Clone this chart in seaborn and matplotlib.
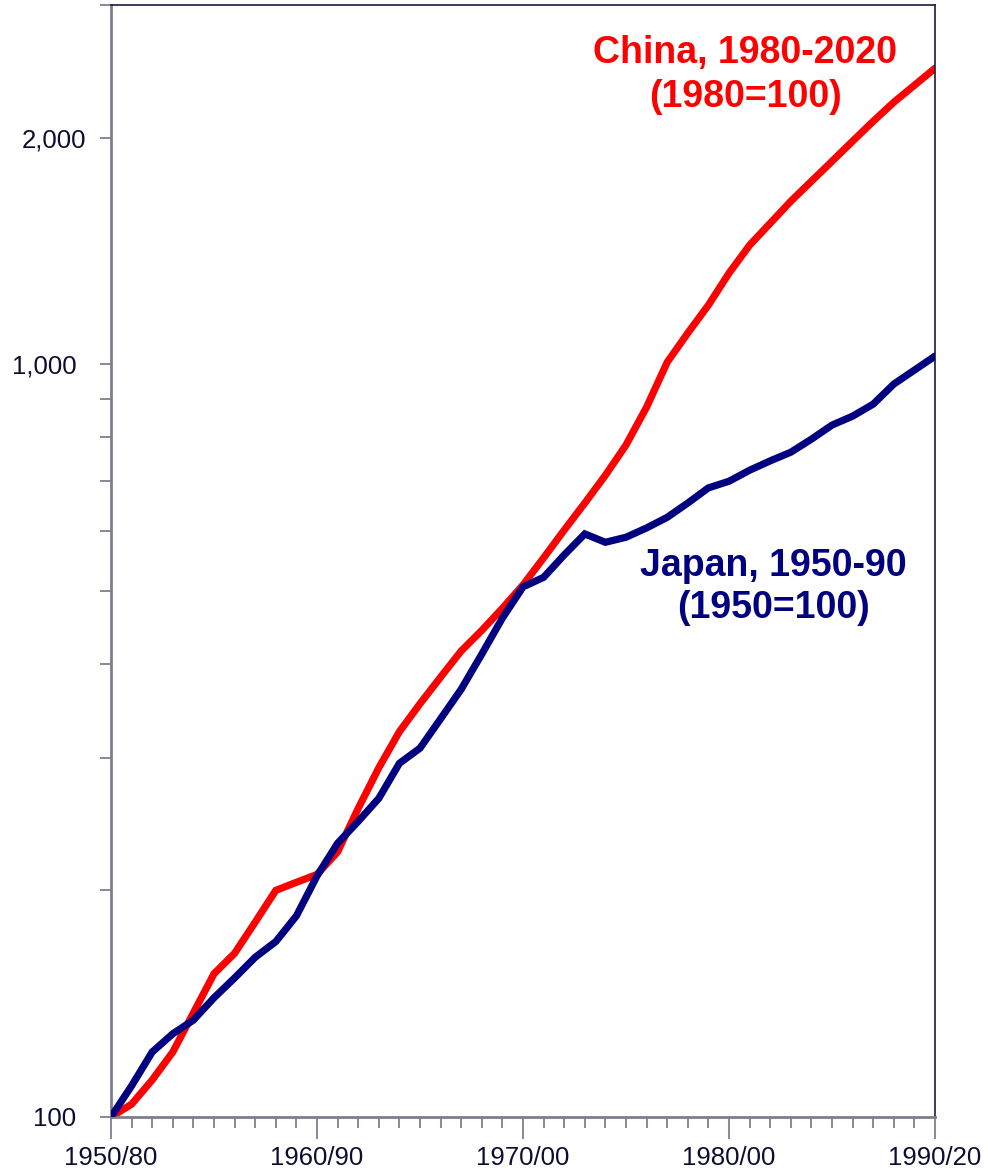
import matplotlib
matplotlib.use("Agg")
import matplotlib.pyplot as plt
import matplotlib.ticker as mticker
import matplotlib.transforms as mtransforms
import numpy as np
import pandas as pd
import seaborn as sns

# ---- data ----
years_index = list(range(41))  # 0..40 years since start
x_tick_labels = ["1950/80", "1960/90", "1970/00", "1980/00", "1990/20"]
x_tick_pos = [0, 10, 20, 30, 40]

japan = [100, 110, 122, 129, 134.5, 144, 153, 163, 171, 185,
         209, 231, 247, 265, 295, 309, 338, 370, 412, 460,
         506, 521, 558, 595, 580, 589, 606, 626, 654, 685,
         699, 723, 744, 764, 795, 830, 853, 885, 941, 982,
         1025]
china = [100, 104, 112, 122, 137.5, 155, 165, 181.5, 200, 205,
         210, 225, 257, 291, 325, 354, 384, 416, 443, 474,
         509, 553, 602, 654, 712, 781, 877, 1006, 1100, 1198,
         1321, 1439, 1539, 1646, 1750, 1860, 1978, 2102, 2228, 2347,
         2472]

y_major = [100, 1000, 2000]
y_major_labels = ["100", "1,000", "2,000"]
y_minor = [200, 300, 400, 500, 600, 700, 800, 900, 3000]

china_label = "China, 1980-2020\n(1980=100)"
japan_label = "Japan, 1950-90\n(1950=100)"

# ---- style ----
sns.set_style("white")
plt.rcParams['font.family'] = ['Liberation Sans', 'DejaVu Sans']

df = pd.DataFrame({
    "t": years_index * 2,
    "value": china + japan,
    "series": ["China"] * len(china) + ["Japan"] * len(japan),
})

fig = plt.figure(figsize=(9.88, 11.72), dpi=100)
ax = fig.add_axes([111 / 988, 1 - 1117 / 1172, (935 - 111) / 988, (1117 - 5) / 1172])

sns.lineplot(data=df, x="t", y="value", hue="series",
             palette={"China": "#FF0000", "Japan": "#000080"},
             hue_order=["China", "Japan"],
             linewidth=5.2, legend=False, ax=ax, estimator=None)
for line in ax.get_lines():
    line.set_solid_joinstyle("miter")
ax.get_lines()[1].set_zorder(3)

ax.set_yscale("log")
ax.set_xlim(0, 40)
ax.set_ylim(100, 3000)

ax.yaxis.set_major_locator(mticker.FixedLocator(y_major))
ax.yaxis.set_major_formatter(mticker.FixedFormatter(y_major_labels))
ax.yaxis.set_minor_locator(mticker.FixedLocator(y_minor))
ax.yaxis.set_minor_formatter(mticker.NullFormatter())

ax.xaxis.set_major_locator(mticker.FixedLocator(x_tick_pos))
ax.xaxis.set_major_formatter(mticker.FixedFormatter(x_tick_labels))
ax.xaxis.set_minor_locator(mticker.MultipleLocator(1))

label_color = "#0d0d33"
tick_color = "#7f7f8c"
ax.tick_params(axis="y", which="both", direction="out", length=8, width=1.3,
               color=tick_color, labelsize=18.5, labelcolor=label_color, pad=17,
               left=True)
ax.tick_params(axis="x", which="major", direction="out", length=16, width=1.3,
               color=tick_color, labelsize=18.5, labelcolor=label_color, pad=5,
               bottom=True)
ax.tick_params(axis="x", which="minor", direction="out", length=8, width=1.3,
               color=tick_color, bottom=True)

# the top label sits a little further right in the original
fig.canvas.draw()
for lbl in ax.get_yticklabels():
    if lbl.get_text() == "2,000":
        lbl.set_transform(lbl.get_transform() +
                          mtransforms.ScaledTranslation(10 / 100, 0, fig.dpi_scale_trans))

ax.set_xlabel("")
ax.set_ylabel("")

for side in ["left", "bottom"]:
    ax.spines[side].set_color(tick_color)
    ax.spines[side].set_linewidth(2)
for side in ["top", "right"]:
    ax.spines[side].set_color("#1a1a40")
    ax.spines[side].set_linewidth(1.2)
    ax.spines[side].set_visible(True)

ax.text(745 / 988, 1 - 75 / 1172, china_label, transform=fig.transFigure,
        ha="center", va="center", color="#FF0000", fontsize=27,
        fontweight="bold", linespacing=1.28)
ax.text(773 / 988, 1 - 587 / 1172, japan_label, transform=fig.transFigure,
        ha="center", va="center", color="#000080", fontsize=27,
        fontweight="bold", linespacing=1.25)

fig.savefig("out.png", dpi=100)
